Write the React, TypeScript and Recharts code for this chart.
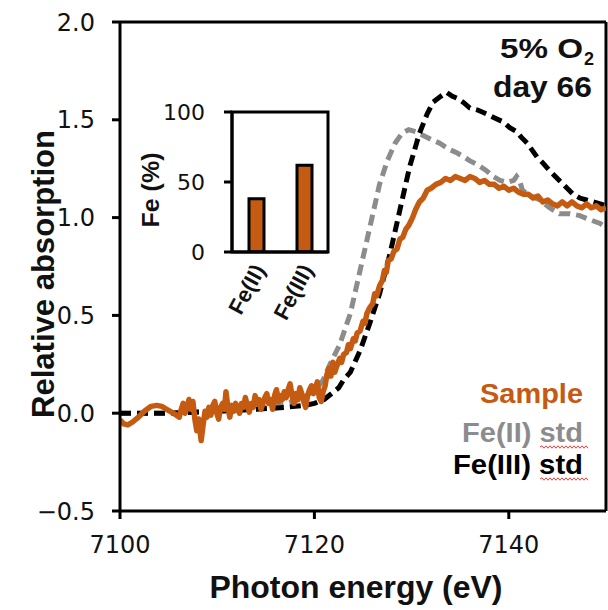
import React from 'react';
import { LineChart, Line, XAxis, YAxis, ReferenceLine, BarChart, Bar } from 'recharts';

const ORANGE = '#C55A11';
const GRAY = '#8C8C8C';

const xTicks = [7100, 7120, 7140];
const yTicks = [-0.5, 0, 0.5, 1, 1.5, 2];

const fe3Std = [
  { x: 7100, y: 0 }, { x: 7105, y: 0 }, { x: 7110, y: 0.01 }, { x: 7114, y: 0.02 },
  { x: 7117, y: 0.03 }, { x: 7119, y: 0.04 }, { x: 7120, y: 0.05 }, { x: 7121, y: 0.07 },
  { x: 7122, y: 0.11 }, { x: 7122.5, y: 0.13 }, { x: 7123, y: 0.17 }, { x: 7123.7, y: 0.21 },
  { x: 7124.7, y: 0.32 }, { x: 7125.7, y: 0.46 }, { x: 7126.7, y: 0.61 }, { x: 7127.8, y: 0.82 },
  { x: 7128.8, y: 1.04 }, { x: 7129.8, y: 1.26 }, { x: 7130.8, y: 1.43 }, { x: 7131.6, y: 1.53 },
  { x: 7132.2, y: 1.59 }, { x: 7133, y: 1.62 }, { x: 7133.6, y: 1.64 }, { x: 7134.2, y: 1.62 },
  { x: 7134.7, y: 1.61 }, { x: 7135.3, y: 1.59 }, { x: 7136, y: 1.56 }, { x: 7136.8, y: 1.55 },
  { x: 7137.7, y: 1.53 }, { x: 7138.5, y: 1.51 }, { x: 7139.4, y: 1.49 }, { x: 7140.1, y: 1.46 },
  { x: 7140.8, y: 1.44 }, { x: 7141.3, y: 1.41 }, { x: 7141.9, y: 1.38 }, { x: 7142.9, y: 1.31 },
  { x: 7143.5, y: 1.28 }, { x: 7144.2, y: 1.24 }, { x: 7145.2, y: 1.19 }, { x: 7145.8, y: 1.16 },
  { x: 7146.6, y: 1.12 }, { x: 7147.3, y: 1.1 }, { x: 7148, y: 1.09 }, { x: 7148.7, y: 1.08 },
  { x: 7149.4, y: 1.07 }, { x: 7150, y: 1.06 },
];

const fe2Std = [
  { x: 7100, y: 0 }, { x: 7105, y: 0 }, { x: 7110, y: 0.01 }, { x: 7114, y: 0.02 },
  { x: 7117, y: 0.05 }, { x: 7118.5, y: 0.07 }, { x: 7119.5, y: 0.1 }, { x: 7120.3, y: 0.13 },
  { x: 7120.9, y: 0.17 }, { x: 7121.6, y: 0.25 }, { x: 7122.6, y: 0.35 }, { x: 7123.7, y: 0.51 },
  { x: 7124.7, y: 0.73 }, { x: 7125.7, y: 0.95 }, { x: 7126.7, y: 1.17 }, { x: 7127.5, y: 1.29 },
  { x: 7128.3, y: 1.38 }, { x: 7129, y: 1.43 }, { x: 7129.7, y: 1.45 }, { x: 7130.4, y: 1.44 },
  { x: 7131.2, y: 1.42 }, { x: 7132, y: 1.4 }, { x: 7132.9, y: 1.38 }, { x: 7133.8, y: 1.35 },
  { x: 7134.7, y: 1.33 }, { x: 7135.4, y: 1.31 }, { x: 7136, y: 1.29 }, { x: 7136.8, y: 1.27 },
  { x: 7137.7, y: 1.24 }, { x: 7138.4, y: 1.21 }, { x: 7139.1, y: 1.19 }, { x: 7139.8, y: 1.18 },
  { x: 7140.5, y: 1.19 }, { x: 7140.8, y: 1.21 }, { x: 7141.1, y: 1.19 }, { x: 7141.4, y: 1.14 },
  { x: 7142.3, y: 1.11 }, { x: 7143.2, y: 1.09 }, { x: 7144.2, y: 1.05 }, { x: 7145.2, y: 1.02 },
  { x: 7146.3, y: 1.02 }, { x: 7147.3, y: 1.01 }, { x: 7148.3, y: 0.99 }, { x: 7149.4, y: 0.97 },
  { x: 7150, y: 0.95 },
];

const sample = [
  { x: 7100.0, y: -0.035 }, { x: 7100.4, y: -0.055 }, { x: 7100.8, y: -0.06 }, { x: 7101.3, y: -0.045 },
  { x: 7101.9, y: -0.02 }, { x: 7102.5, y: 0.01 }, { x: 7103.2, y: 0.035 }, { x: 7103.8, y: 0.04 },
  { x: 7104.3, y: 0.035 }, { x: 7104.8, y: 0.02 }, { x: 7105.3, y: 0.005 }, { x: 7105.8, y: -0.01 },
  { x: 7106.1, y: -0.02 }, { x: 7106.3, y: 0.02 }, { x: 7106.5, y: 0.05 }, { x: 7106.7, y: 0.0 },
  { x: 7106.9, y: 0.03 }, { x: 7107.1, y: 0.07 }, { x: 7107.3, y: 0.02 }, { x: 7107.5, y: 0.06 },
  { x: 7107.7, y: -0.03 }, { x: 7107.9, y: -0.09 }, { x: 7108.1, y: -0.03 }, { x: 7108.35, y: -0.14 },
  { x: 7108.55, y: -0.06 }, { x: 7108.75, y: 0.01 }, { x: 7108.95, y: -0.02 }, { x: 7109.15, y: 0.03 },
  { x: 7109.35, y: -0.01 }, { x: 7109.55, y: 0.04 }, { x: 7109.75, y: 0.06 }, { x: 7109.95, y: 0.0 },
  { x: 7110.15, y: -0.03 }, { x: 7110.35, y: 0.03 }, { x: 7110.55, y: 0.05 }, { x: 7110.75, y: 0.02 },
  { x: 7110.9, y: 0.11 }, { x: 7111.1, y: 0.03 }, { x: 7111.3, y: -0.02 }, { x: 7111.5, y: 0.04 },
  { x: 7111.7, y: 0.01 }, { x: 7111.9, y: 0.05 }, { x: 7112.1, y: 0.02 }, { x: 7112.3, y: 0.0 },
  { x: 7112.5, y: 0.05 }, { x: 7112.7, y: 0.03 }, { x: 7112.9, y: 0.08 }, { x: 7113.1, y: 0.04 },
  { x: 7113.3, y: 0.005 }, { x: 7113.5, y: 0.05 }, { x: 7113.7, y: 0.03 }, { x: 7113.9, y: 0.09 },
  { x: 7114.1, y: 0.05 }, { x: 7114.3, y: 0.07 }, { x: 7114.5, y: 0.02 }, { x: 7114.7, y: 0.05 },
  { x: 7114.9, y: 0.08 }, { x: 7115.1, y: 0.1 }, { x: 7115.3, y: 0.05 }, { x: 7115.5, y: 0.07 },
  { x: 7115.7, y: 0.02 }, { x: 7115.9, y: 0.09 }, { x: 7116.1, y: 0.12 }, { x: 7116.3, y: 0.06 },
  { x: 7116.5, y: 0.09 }, { x: 7116.7, y: 0.07 }, { x: 7116.9, y: 0.11 }, { x: 7117.1, y: 0.08 },
  { x: 7117.3, y: 0.12 }, { x: 7117.5, y: 0.15 }, { x: 7117.7, y: 0.09 }, { x: 7117.9, y: 0.05 },
  { x: 7118.1, y: 0.1 }, { x: 7118.3, y: 0.07 }, { x: 7118.5, y: 0.13 }, { x: 7118.7, y: 0.1 },
  { x: 7118.9, y: 0.06 }, { x: 7119.1, y: 0.03 }, { x: 7119.3, y: 0.09 }, { x: 7119.5, y: 0.12 },
  { x: 7119.7, y: 0.14 }, { x: 7119.9, y: 0.1 }, { x: 7120.1, y: 0.13 }, { x: 7120.3, y: 0.16 },
  { x: 7120.5, y: 0.08 }, { x: 7120.7, y: 0.06 }, { x: 7120.9, y: 0.11 }, { x: 7121.1, y: 0.14 },
  { x: 7121.3, y: 0.2 }, { x: 7121.5, y: 0.23 }, { x: 7121.7, y: 0.19 }, { x: 7121.9, y: 0.26 },
  { x: 7122.1, y: 0.21 }, { x: 7122.3, y: 0.24 }, { x: 7122.6, y: 0.28 }, { x: 7122.8, y: 0.26 },
  { x: 7123.0, y: 0.3 }, { x: 7123.3, y: 0.31 }, { x: 7123.5, y: 0.35 }, { x: 7123.7, y: 0.33 },
  { x: 7124.0, y: 0.38 }, { x: 7124.2, y: 0.37 }, { x: 7124.4, y: 0.41 }, { x: 7124.7, y: 0.42 },
  { x: 7125.0, y: 0.47 }, { x: 7125.2, y: 0.46 }, { x: 7125.4, y: 0.51 }, { x: 7125.7, y: 0.54 },
  { x: 7126.0, y: 0.56 }, { x: 7126.2, y: 0.61 }, { x: 7126.4, y: 0.6 }, { x: 7126.7, y: 0.65 },
  { x: 7127.0, y: 0.68 }, { x: 7127.2, y: 0.73 }, { x: 7127.4, y: 0.72 }, { x: 7127.6, y: 0.78 },
  { x: 7127.9, y: 0.79 }, { x: 7128.2, y: 0.83 }, { x: 7128.5, y: 0.84 }, { x: 7128.8, y: 0.89 },
  { x: 7129.1, y: 0.9 }, { x: 7129.4, y: 0.94 }, { x: 7129.7, y: 0.96 }, { x: 7130.1, y: 1.0 },
  { x: 7130.4, y: 1.04 }, { x: 7130.8, y: 1.08 }, { x: 7131.2, y: 1.1 }, { x: 7131.6, y: 1.14 },
  { x: 7132.0, y: 1.15 }, { x: 7132.5, y: 1.17 }, { x: 7133.0, y: 1.18 }, { x: 7133.5, y: 1.2 },
  { x: 7134.0, y: 1.19 }, { x: 7134.5, y: 1.21 }, { x: 7135.0, y: 1.2 }, { x: 7135.5, y: 1.19 },
  { x: 7136.0, y: 1.21 }, { x: 7136.5, y: 1.2 }, { x: 7137.0, y: 1.18 }, { x: 7137.5, y: 1.19 },
  { x: 7138.0, y: 1.17 }, { x: 7138.5, y: 1.17 }, { x: 7139.0, y: 1.15 }, { x: 7139.5, y: 1.16 },
  { x: 7140.0, y: 1.14 }, { x: 7140.5, y: 1.15 }, { x: 7141.0, y: 1.13 }, { x: 7141.5, y: 1.12 },
  { x: 7142.0, y: 1.12 }, { x: 7142.5, y: 1.1 }, { x: 7143.0, y: 1.11 }, { x: 7143.5, y: 1.08 },
  { x: 7144.0, y: 1.09 }, { x: 7144.5, y: 1.07 }, { x: 7145.0, y: 1.06 }, { x: 7145.5, y: 1.08 },
  { x: 7146.0, y: 1.06 }, { x: 7146.5, y: 1.08 }, { x: 7147.0, y: 1.06 }, { x: 7147.5, y: 1.05 },
  { x: 7148.0, y: 1.07 }, { x: 7148.5, y: 1.05 }, { x: 7149.0, y: 1.06 }, { x: 7149.5, y: 1.04 },
  { x: 7150.0, y: 1.05 },
];

const insetCategories = ['Fe(II)', 'Fe(III)'];
const insetValues = [38, 62];
const insetTicks = [0, 50, 100];

const insetData = insetCategories.map((c, i) => ({ pos: i + 0.5, cat: c, v: insetValues[i] }));
const insetPositions = insetData.map((d) => d.pos);

// inset layout
const INSET = { left: 130, top: 100, width: 200, height: 240, marginTop: 12, marginRight: 2, yAxisW: 102, xAxisH: 88 };
const insetPlot = {
  x: INSET.left + INSET.yAxisW,
  y: INSET.top + INSET.marginTop,
  w: INSET.width - INSET.marginRight - INSET.yAxisW,
  h: INSET.height - INSET.marginTop - INSET.xAxisH,
};

const axisStroke = { stroke: '#000', strokeWidth: 3 };
const tickFont = { fill: '#111', fontSize: 24, fontFamily: 'DejaVu Sans' };
const boldFont = 'Liberation Sans, Arial, sans-serif';

const fmtY = (v: number) => (v < 0 ? '\u2212' + Math.abs(v).toFixed(1) : v.toFixed(1));

const wavy = (x0: number, x1: number, y: number) => {
  let d = `M${x0} ${y}`;
  let up = true;
  for (let x = x0; x < x1; x += 2) {
    d += ` L${x + 2} ${up ? y - 1.2 : y + 1.2}`;
    up = !up;
  }
  return d;
};

const InsetTick = (props: any) => {
  const { x, y, payload } = props;
  const ax = x + 3;
  const ay = y + 6;
  const label = insetCategories[Math.floor(payload.value)];
  return (
    <text
      x={ax}
      y={ay}
      dy="0.35em"
      textAnchor="end"
      transform={`rotate(-62 ${ax} ${ay})`}
      fontSize={22}
      fontWeight="bold"
      fontFamily={boldFont}
      fill="#111"
    >
      {label}
    </text>
  );
};

export default function App() {
  return (
    <div style={{ position: 'absolute', left: 0, top: 0, width: 608, height: 610, background: '#fff' }}>
      <LineChart width={608} height={610} margin={{ top: 22, right: 2, bottom: 0, left: 0 }}>
        <XAxis
          type="number"
          dataKey="x"
          domain={[7100, 7150]}
          ticks={xTicks}
          interval={0}
          allowDataOverflow
          height={99}
          tickSize={8}
          tickMargin={17}
          axisLine={axisStroke}
          tickLine={axisStroke}
          tick={tickFont}
        />
        <YAxis
          type="number"
          domain={[-0.5, 2]}
          ticks={yTicks}
          interval={0}
          allowDataOverflow
          width={120}
          tickSize={8}
          tickMargin={17}
          axisLine={axisStroke}
          tickLine={axisStroke}
          tick={tickFont}
          tickFormatter={fmtY}
        />
        <ReferenceLine y={2} stroke="#000" strokeWidth={3} />
        <ReferenceLine x={7150} stroke="#000" strokeWidth={3} />
        <Line data={fe2Std} dataKey="y" stroke={GRAY} strokeWidth={5} strokeDasharray="11 6" dot={false} isAnimationActive={false} type="linear" />
        <Line data={fe3Std} dataKey="y" stroke="#000" strokeWidth={5} strokeDasharray="11 6" dot={false} isAnimationActive={false} type="linear" />
        <Line data={sample} dataKey="y" stroke={ORANGE} strokeWidth={5.5} strokeLinejoin="round" dot={false} isAnimationActive={false} type="linear" />
      </LineChart>

      <div style={{ position: 'absolute', left: INSET.left, top: INSET.top }}>
        <BarChart
          width={INSET.width}
          height={INSET.height}
          data={insetData}
          margin={{ top: INSET.marginTop, right: INSET.marginRight, left: 0, bottom: 0 }}
        >
          <XAxis
            type="number"
            dataKey="pos"
            domain={[0, 2]}
            ticks={insetPositions}
            interval={0}
            allowDataOverflow
            height={INSET.xAxisH}
            axisLine={axisStroke}
            tickLine={false}
            tick={<InsetTick />}
          />
          <YAxis
            type="number"
            domain={[0, 100]}
            ticks={insetTicks}
            interval={0}
            allowDataOverflow
            width={INSET.yAxisW}
            tickSize={8}
            tickMargin={19}
            axisLine={axisStroke}
            tickLine={axisStroke}
            tick={{ fill: '#111', fontSize: 22, fontFamily: 'DejaVu Sans' }}
          />
          <Bar dataKey="v" fill={ORANGE} stroke="#000" strokeWidth={3} barSize={15} isAnimationActive={false} />
        </BarChart>
      </div>

      <svg width={608} height={610} style={{ position: 'absolute', left: 0, top: 0, pointerEvents: 'none' }}>
        <rect x={insetPlot.x} y={insetPlot.y} width={insetPlot.w} height={insetPlot.h} fill="none" stroke="#000" strokeWidth={3} />
        <text
          transform="translate(54 274) rotate(-90)"
          textAnchor="middle"
          fontSize={31}
          fontWeight="bold"
          fontFamily={boldFont}
          fill="#111"
          textLength={288}
          lengthAdjust="spacingAndGlyphs"
        >
          Relative absorption
        </text>
        <text x={356} y={598} textAnchor="middle" fontSize={31} fontWeight="bold" fontFamily={boldFont} fill="#111" textLength={293} lengthAdjust="spacingAndGlyphs">
          Photon energy (eV)
        </text>
        <text
          transform="translate(159 190) rotate(-90)"
          textAnchor="middle"
          fontSize={24}
          fontWeight="bold"
          fontFamily={boldFont}
          fill="#111"
          textLength={75}
          lengthAdjust="spacingAndGlyphs"
        >
          Fe (%)
        </text>
        <text x={583} y={58} textAnchor="end" fontSize={28} fontWeight="bold" fontFamily={boldFont} fill="#111" textLength={83} lengthAdjust="spacingAndGlyphs">
          5% O
        </text>
        <text x={584} y={65} fontSize={18} fontWeight="bold" fontFamily={boldFont} fill="#111">
          2
        </text>
        <text x={592} y={97} textAnchor="end" fontSize={30} fontWeight="bold" fontFamily={boldFont} fill="#111" textLength={99} lengthAdjust="spacingAndGlyphs">
          day 66
        </text>
        <text x={583} y={403} textAnchor="end" fontSize={28} fontWeight="bold" fontFamily={boldFont} fill={ORANGE} textLength={103} lengthAdjust="spacingAndGlyphs">
          Sample
        </text>
        <text x={583} y={442} textAnchor="end" fontSize={28} fontWeight="bold" fontFamily={boldFont} fill={GRAY} textLength={121} lengthAdjust="spacingAndGlyphs">
          Fe(II) std
        </text>
        <text x={583} y={474} textAnchor="end" fontSize={28} fontWeight="bold" fontFamily={boldFont} fill="#000" textLength={130} lengthAdjust="spacingAndGlyphs">
          Fe(III) std
        </text>
        <path d={wavy(540, 588, 447)} fill="none" stroke="#e8423c" strokeWidth={1} />
        <path d={wavy(540, 588, 479)} fill="none" stroke="#e8423c" strokeWidth={1} />
      </svg>
    </div>
  );
}
